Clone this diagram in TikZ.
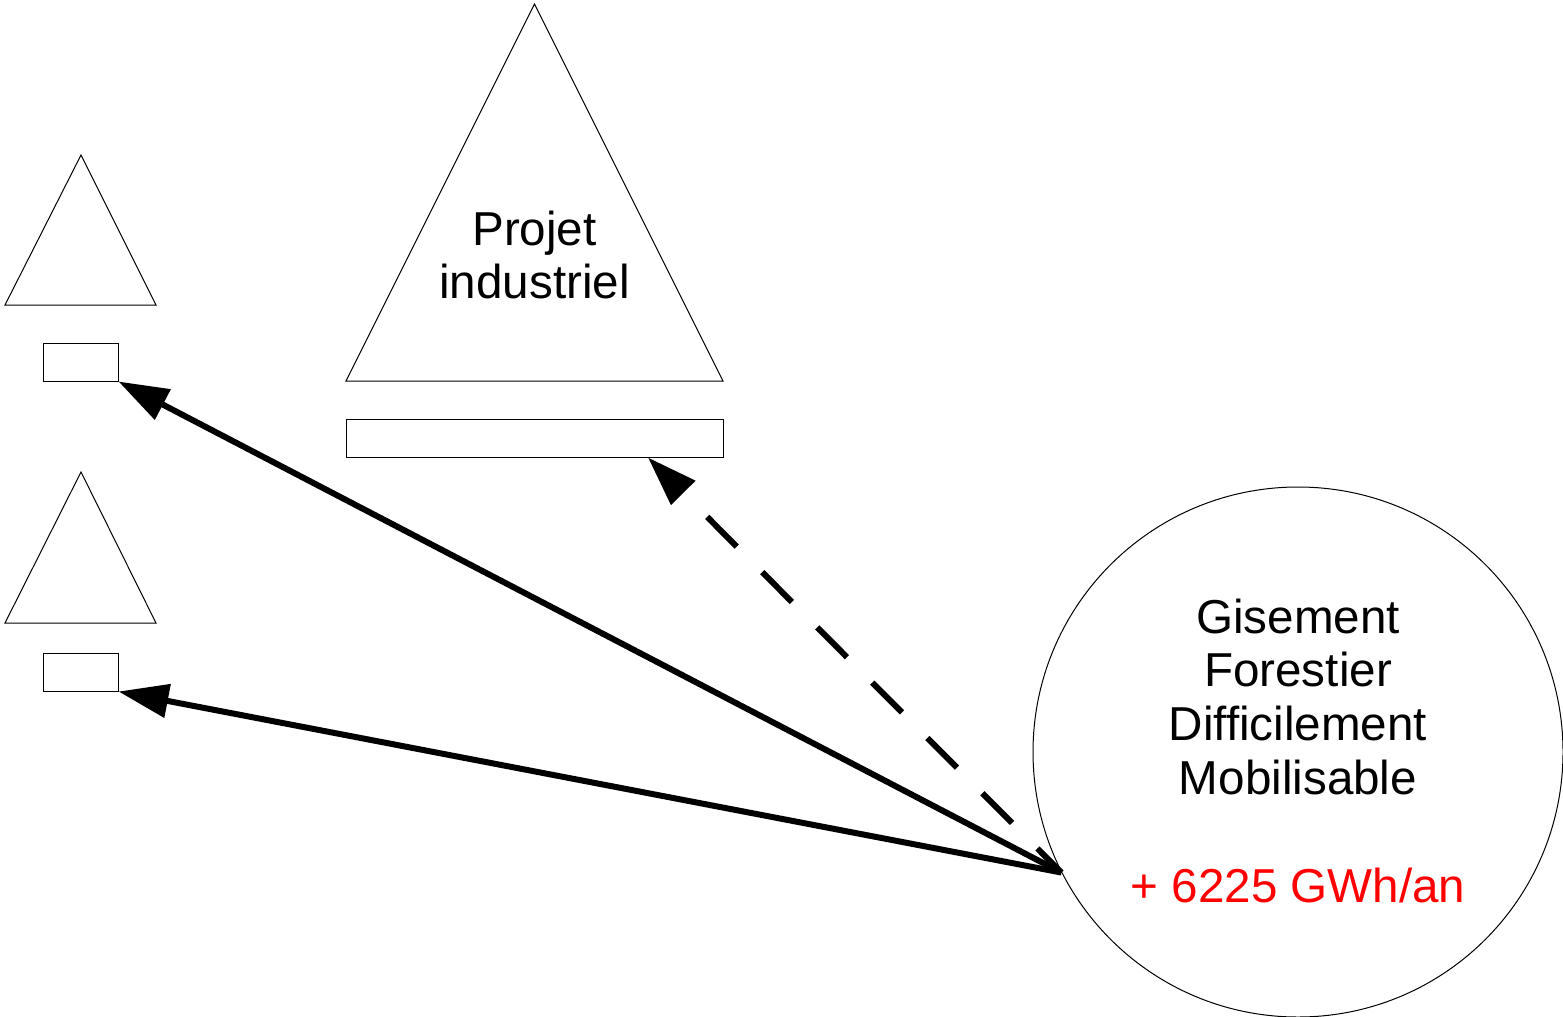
\documentclass[tikz,border=0pt]{standalone}
\usepackage{fontspec}
\setmainfont{Liberation Sans}
\usetikzlibrary{arrows.meta}
\begin{document}
\begin{tikzpicture}[x=0.5pt,y=-0.5pt,
  shape line/.style={draw=black,line width=0.5pt},
  box/.style={shape line,rectangle,inner sep=0pt,minimum height=19pt},
  label text/.style={align=center,font=\fontsize{23.8pt}{26.9pt}\selectfont},
  flow/.style={line width=3pt,-{Triangle[length=25pt,width=16.5pt]}},
  flow dashed/.style={flow,dash pattern=on 21pt off 18pt,dash phase=4pt}]
\useasboundingbox (0,0) rectangle (1563,1017);
% small triangles
\draw[shape line] (81,155) -- (156,305) -- (5,305) -- cycle;
\draw[shape line] (81,472) -- (156,623) -- (5,623) -- cycle;
% big triangle
\draw[shape line] (534.5,4) -- (723,381) -- (346,381) -- cycle;
\node[label text] (proj) at (534.5,255) {Projet\\industriel};
% rectangles
\node[box,minimum width=37.5pt] (r1) at (80.5,362) {};
\node[box,minimum width=37.5pt] (r2) at (80.5,672) {};
\node[box,minimum width=188.5pt] (br) at (534.5,438) {};
% circle
\node[shape line,circle,minimum size=265pt,inner sep=0pt] (circ) at (1298,752) {};
\node[label text] (ctext) at (1298,750.5) {Gisement\\Forestier\\Difficilement\\Mobilisable\\[26.9pt]\textcolor{red}{+ 6225 GWh/an}};
% arrows
\draw[flow] (circ.207) -- (r1.south east);
\draw[flow] (circ.207) -- (r2.south east);
\draw[flow dashed] (circ.207) -- ([xshift=56.75pt]br.south);
\end{tikzpicture}
\end{document}
